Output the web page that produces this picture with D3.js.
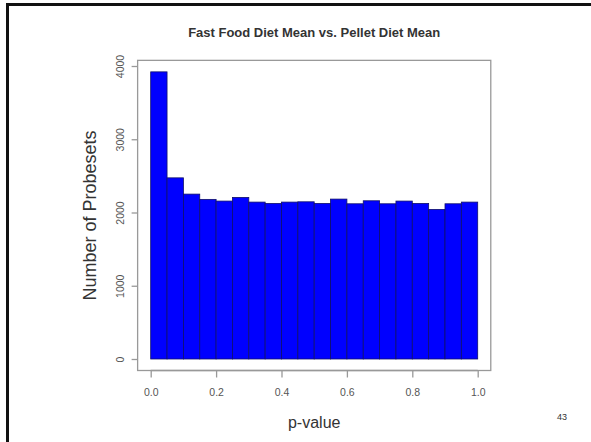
<!DOCTYPE html>
<html>
<head>
<meta charset="utf-8">
<script src="https://cdn.jsdelivr.net/npm/d3@7"></script>
<style>
  body { margin: 0; background: #fff; }
  svg { display: block; font-family: 'Liberation Sans', Arial, sans-serif; }
</style>
</head>
<body>
<svg id="chart" width="591" height="442"></svg>
<script>
// Histogram bins (p-value) and counts
const bin_edges = d3.range(0, 1.0001, 0.05).map(d => +d.toFixed(2))
const counts = [3920, 2473, 2251, 2179, 2156, 2206, 2142, 2124, 2142, 2146,
                2124, 2183, 2119, 2160, 2119, 2156, 2124, 2042, 2119, 2142]
const x_ticks = [0, 0.2, 0.4, 0.6, 0.8, 1.0]
const y_ticks = [0, 1000, 2000, 3000, 4000]

const title_text = 'Fast Food Diet Mean vs. Pellet Diet Mean'
const x_label = 'p-value'
const y_label = 'Number of Probesets'
const page_no = '43'

let svg = d3.select('#chart')

// Slide frame
svg.append('path')
  .attr('d', 'M7.5,600 V4.5 H600')
  .attr('fill', 'none')
  .attr('stroke', '#111')
  .attr('stroke-width', 3)

// R-style ranges: 4% extension around data
let x = d3.scaleLinear().domain([0, 1]).range([150.7, 477.7])
let y = d3.scaleLinear().domain([0, 4000]).range([359, 66])

let x0 = x(-0.04), x1 = x(1.04)
let y0 = y(-157), y1 = y(4077)

// Bars
svg.append('g')
  .selectAll('rect')
  .data(counts)
  .enter()
  .append('rect')
    .attr('x', (d, i) => x(bin_edges[i]))
    .attr('y', d => y(d))
    .attr('width', (d, i) => x(bin_edges[i + 1]) - x(bin_edges[i]))
    .attr('height', d => y(0) - y(d))
    .attr('fill', '#0000ff')
    .attr('stroke', '#10106a')
    .attr('stroke-width', 0.8)

// Box
svg.append('rect')
  .attr('x', x0)
  .attr('y', y1)
  .attr('width', x1 - x0)
  .attr('height', y0 - y1)
  .attr('fill', 'none')
  .attr('stroke', '#999')
  .attr('stroke-width', 1.3)

// X axis
let x_axis = svg.append('g')
  .attr('transform', `translate(0,${y0})`)
  .call(d3.axisBottom(x).tickValues(x_ticks).tickSize(7).tickPadding(11)
    .tickFormat(d3.format('.1f')))
x_axis.select('.domain')
  .attr('d', `M${x(0)},0H${x(1)}`)
  .attr('stroke', '#999')
  .attr('stroke-width', 1.3)
x_axis.selectAll('.tick line').attr('stroke', '#999').attr('stroke-width', 1.3)
x_axis.selectAll('.tick text')
  .attr('fill', '#555')
  .style('font-size', '10.5px')
  .attr('font-family', null)

// Y axis
let y_axis = svg.append('g')
  .attr('transform', `translate(${x0},0)`)
  .call(d3.axisLeft(y).tickValues(y_ticks).tickSize(6).tickFormat(d3.format('d')))
y_axis.select('.domain').remove()
y_axis.selectAll('.tick line').attr('stroke', '#999').attr('stroke-width', 1.3)
y_axis.selectAll('.tick text')
  .attr('x', null)
  .attr('dy', null)
  .attr('text-anchor', 'middle')
  .attr('transform', 'translate(-14,0) rotate(-90)')
  .attr('fill', '#555')
  .style('font-size', '10.5px')
  .attr('font-family', null)

// Titles
svg.append('text')
  .attr('x', (x0 + x1) / 2)
  .attr('y', 37)
  .attr('text-anchor', 'middle')
  .style('font-size', '13px')
  .style('font-weight', 'bold')
  .attr('fill', '#333')
  .text(title_text)

svg.append('text')
  .attr('x', (x0 + x1) / 2)
  .attr('y', 428)
  .attr('text-anchor', 'middle')
  .style('font-size', '16px')
  .attr('fill', '#333')
  .text(x_label)

svg.append('text')
  .attr('transform', `translate(96,${(y0 + y1) / 2}) rotate(-90)`)
  .attr('text-anchor', 'middle')
  .style('font-size', '18px')
  .attr('fill', '#333')
  .text(y_label)

svg.append('text')
  .attr('x', 562)
  .attr('y', 420)
  .attr('text-anchor', 'middle')
  .style('font-size', '9px')
  .attr('fill', '#333')
  .text(page_no)
</script>
</body>
</html>
